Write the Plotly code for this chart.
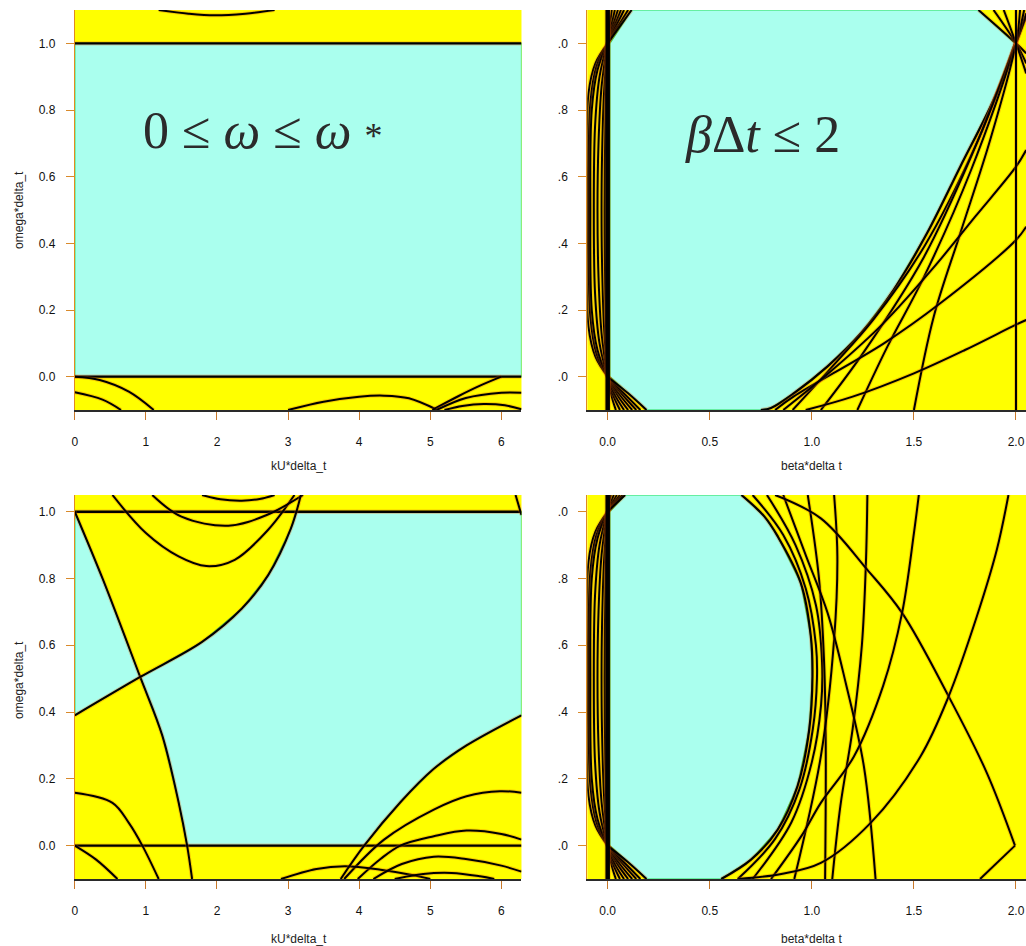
import plotly.graph_objects as go

YELLOW = "#FFFF00"
CYAN = "#AAFFEE"

# ---------------- data ----------------
# top-left panel (kU*delta_t vs omega*delta_t)
tl_region = [(0, 0.0), (6.283, 0.0), (6.283, 1.0), (0, 1.0)]
tl_curves = [
    [(0, 1.0), (6.283, 1.0)],
    [(0, 0.0), (6.283, 0.0)],
    [(1.18, 1.1), (1.6, 1.089), (1.97, 1.084), (2.4, 1.089), (2.81, 1.1)],
    [(0.0, 0.0), (0.35, -0.01), (0.76, -0.045), (1.11, -0.1)],
    [(0.0, -0.047), (0.39, -0.069), (0.65, -0.1)],
    [(3.0, -0.1), (3.5, -0.075), (4.0, -0.06), (4.35, -0.057), (4.7, -0.065), (5.1, -0.1)],
    [(5.03, -0.1), (5.4, -0.058), (5.7, -0.027), (6.0, 0.0)],
    [(5.09, -0.1), (5.5, -0.064), (6.0, -0.048), (6.283, -0.048)],
    [(5.2, -0.1), (5.45, -0.088), (5.75, -0.082), (6.05, -0.086), (6.283, -0.098)],
]

# shared pieces of the two beta panels
left_loops = [
    [(0, 1.0), (-0.06, 0.94), (-0.094, 0.85), (-0.1, 0.5), (-0.094, 0.15), (-0.06, 0.06), (0, 0.0)],
    [(0, 1.0), (-0.055, 0.93), (-0.085, 0.82), (-0.092, 0.5), (-0.085, 0.18), (-0.055, 0.07), (0, 0.0)],
    [(0, 1.0), (-0.05, 0.92), (-0.078, 0.8), (-0.085, 0.5), (-0.078, 0.2), (-0.05, 0.08), (0, 0.0)],
    [(0, 1.0), (-0.04, 0.9), (-0.062, 0.75), (-0.068, 0.5), (-0.062, 0.25), (-0.04, 0.1), (0, 0.0)],
    [(0, 1.0), (-0.03, 0.87), (-0.045, 0.7), (-0.05, 0.5), (-0.045, 0.3), (-0.03, 0.13), (0, 0.0)],
    [(0, 1.0), (-0.018, 0.85), (-0.028, 0.65), (-0.03, 0.5), (-0.028, 0.35), (-0.018, 0.15), (0, 0.0)],
    [(0, 1.0), (-0.01, 0.8), (-0.015, 0.5), (-0.01, 0.2), (0, 0.0)],
]
bottom_fan = [
    [(0, 0.0), (0.02, -0.06), (0.04, -0.1)],
    [(0, 0.0), (0.03, -0.06), (0.06, -0.1)],
    [(0, 0.0), (0.04, -0.06), (0.08, -0.1)],
    [(0, 0.0), (0.05, -0.057), (0.1, -0.1)],
    [(0, 0.0), (0.06, -0.055), (0.12, -0.1)],
    [(0, 0.0), (0.07, -0.052), (0.14, -0.1)],
    [(0, 0.0), (0.08, -0.05), (0.16, -0.1)],
    [(0, 0.0), (0.1, -0.05), (0.19, -0.1)],
]

# top-right panel (beta*delta t vs omega*delta_t)
tr_boundary = [(1.995, 1.0), (1.89, 0.83), (1.727, 0.63), (1.564, 0.43), (1.40, 0.26), (1.24, 0.13),
               (1.077, 0.031), (0.914, -0.049), (0.8, -0.094), (0.75, -0.1)]
tr_corner = [(0.19, -0.1), (0.011, 0.0), (0.011, 1.0), (0.117, 1.1), (1.816, 1.1)]
tr_top_fan = [
    [(0, 1.0), (0.02, 1.1)],
    [(0, 1.0), (0.035, 1.1)],
    [(0, 1.0), (0.05, 1.1)],
    [(0, 1.0), (0.065, 1.1)],
    [(0, 1.0), (0.08, 1.1)],
    [(0, 1.0), (0.1, 1.1)],
    [(0, 1.0), (0.117, 1.1)],
]
tr_curves = [
    [(0.906, -0.1), (1.1, 0.03), (1.3, 0.17), (1.55, 0.39), (1.8, 0.69), (2.0, 1.0), (2.05, 1.08)],
    [(1.044, -0.1), (1.25, 0.07), (1.55, 0.36), (1.78, 0.66), (2.0, 1.0), (2.05, 1.09)],
    [(1.223, -0.1), (1.37, 0.09), (1.55, 0.3), (1.78, 0.62), (2.0, 1.0), (2.04, 1.1)],
    [(1.5, -0.1), (1.597, 0.18), (1.727, 0.43), (1.873, 0.709), (2.0, 1.0), (2.02, 1.1)],
    [(1.816, 1.1), (2.0, 1.0), (2.05, 0.97)],
    [(1.89, 1.1), (2.0, 1.0), (2.05, 0.94)],
    [(1.94, 1.1), (2.0, 1.0), (2.05, 0.91)],
    [(0.97, -0.1), (1.2, -0.06), (1.5, 0.01), (1.75, 0.08), (2.0, 0.156), (2.05, 0.17)],
    [(0.82, -0.1), (0.91, -0.06), (1.353, 0.1), (1.629, 0.22), (2.0, 0.41), (2.05, 0.45)],
    [(0.86, -0.1), (1.1, 0.02), (1.35, 0.16), (1.6, 0.33), (1.8, 0.48), (2.0, 0.63), (2.05, 0.68)],
    [(2.0, -0.1), (2.0, 1.1)],
]

# bottom-left panel
bl_s1 = [(0, 1.0), (0.39, 0.8), (0.92, 0.505), (1.23, 0.33), (1.46, 0.13), (1.58, 0.0), (1.65, -0.1)]
bl_s2 = [(0, 0.39), (0.92, 0.505), (1.79, 0.61), (2.35, 0.71), (2.72, 0.81), (3.04, 0.95), (3.18, 1.05)]
bl_s3 = [(3.74, -0.1), (4.07, 0.0), (4.58, 0.13), (5.05, 0.23), (5.51, 0.3), (6.283, 0.39)]
bl_curves = [
    [(0, 1.0), (6.283, 1.0)],
    [(0, 0.0), (6.283, 0.0)],
    [(0.53, 1.05), (1.0, 0.936), (1.46, 0.866), (1.85, 0.837), (2.25, 0.856), (2.72, 0.946), (3.09, 1.05)],
    [(1.09, 1.05), (1.5, 0.985), (2.16, 0.958), (2.7, 0.99), (3.21, 1.05)],
    [(1.79, 1.05), (2.05, 1.037), (2.35, 1.033), (2.6, 1.038), (2.81, 1.05)],
    [(6.2, 1.05), (6.283, 0.99)],
    [(0, 0.158), (0.53, 0.128), (0.76, 0.068), (0.95, 0.0), (1.18, -0.1)],
    [(0, 0.0), (0.3, -0.042), (0.6, -0.1)],
    [(3.79, -0.1), (4.35, 0.018), (5.05, 0.108), (5.51, 0.148), (5.98, 0.163), (6.283, 0.158)],
    [(3.98, -0.1), (4.3, -0.04), (4.58, 0.0), (5.05, 0.028), (5.51, 0.045), (6.0, 0.035), (6.283, 0.018)],
    [(2.9, -0.1), (3.4, -0.07), (3.8, -0.062), (4.3, -0.072), (4.8, -0.09), (5.0, -0.1)],
    [(4.2, -0.1), (4.6, -0.055), (5.05, -0.033), (5.5, -0.04), (6.0, -0.06), (6.283, -0.078)],
    [(4.5, -0.1), (4.9, -0.085), (5.3, -0.082), (5.7, -0.092), (5.9, -0.1)],
    bl_s1, bl_s2, bl_s3,
]

# bottom-right panel
br_boundary = [(0.655, 1.05), (0.767, 0.986), (0.833, 0.926), (0.946, 0.786), (0.995, 0.627), (1.003, 0.507),
               (0.987, 0.347), (0.93, 0.178), (0.833, 0.048), (0.702, -0.042), (0.556, -0.1)]
br_corner = [(0.19, -0.1), (0.011, 0.0), (0.011, 1.0), (0.085, 1.05)]
br_top_fan = [
    [(0, 1.0), (0.015, 1.05)],
    [(0, 1.0), (0.03, 1.05)],
    [(0, 1.0), (0.045, 1.05)],
    [(0, 1.0), (0.06, 1.05)],
    [(0, 1.0), (0.073, 1.05)],
    [(0, 1.0), (0.085, 1.05)],
]
br_curves = [
    [(0.71, 1.05), (0.86, 0.93), (0.97, 0.77), (1.02, 0.6), (1.025, 0.5), (1.005, 0.35), (0.94, 0.17), (0.82, 0.02), (0.637, -0.1)],
    [(0.78, 1.05), (0.92, 0.9), (1.02, 0.72), (1.05, 0.55), (1.045, 0.42), (1.0, 0.25), (0.9, 0.07), (0.71, -0.1)],
    [(1.065, -0.1), (1.068, 0.3), (1.06, 0.55), (1.035, 0.8), (0.98, 1.05)],
    [(1.109, 1.05), (1.125, 0.866), (1.109, 0.617), (1.044, 0.267), (0.914, -0.1)],
    [(1.272, 1.05), (1.265, 0.85), (1.245, 0.6), (1.2, 0.35), (1.14, 0.12), (1.1, -0.1)],
    [(1.312, -0.1), (1.255, 0.237), (1.166, 0.487), (1.077, 0.697), (0.97, 0.87), (0.86, 1.05)],
    [(0.82, 1.05), (1.044, 0.98), (1.272, 0.826), (1.442, 0.697), (1.67, 0.447), (1.857, 0.218), (1.995, 0.0)],
    [(1.995, 0.0), (1.824, -0.1)],
    [(0.8, -0.1), (0.95, 0.03), (1.044, 0.128), (1.206, 0.267), (1.35, 0.48), (1.442, 0.697), (1.5, 0.936), (1.524, 1.05)],
    [(0.64, -0.1), (0.85, -0.085), (1.044, -0.052), (1.288, 0.068), (1.532, 0.267), (1.67, 0.447), (1.808, 0.686), (1.906, 0.886), (1.963, 1.05)],
]

x_ticks_k = [0, 1, 2, 3, 4, 5, 6]
x_ticks_beta = [0.0, 0.5, 1.0, 1.5, 2.0]
y_ticks = [0.0, 0.2, 0.4, 0.6, 0.8, 1.0]
y_labels_left = ["0.0", "0.2", "0.4", "0.6", "0.8", "1.0"]
y_labels_right = [".0", ".2", ".4", ".6", ".8", ".0"]

# ---------------- figure ----------------
fig = go.Figure()


def add_region(pts, xa, ya):
    fig.add_trace(go.Scatter(
        x=[p[0] for p in pts] + [pts[0][0]], y=[p[1] for p in pts] + [pts[0][1]],
        xaxis=xa, yaxis=ya, mode="lines", fill="toself", fillcolor=CYAN,
        line=dict(color="#22dd55", width=1.2), hoverinfo="skip", showlegend=False))


def add_curve(pts, xa, ya, width=2.0):
    xs = [p[0] for p in pts]
    ys = [p[1] for p in pts]
    shape = "spline" if len(pts) > 2 else "linear"
    fig.add_trace(go.Scatter(x=xs, y=ys, xaxis=xa, yaxis=ya, mode="lines",
                             line=dict(color="rgba(225,90,0,0.3)", width=width + 2, shape=shape),
                             hoverinfo="skip", showlegend=False))
    fig.add_trace(go.Scatter(x=xs, y=ys, xaxis=xa, yaxis=ya, mode="lines",
                             line=dict(color="black", width=width, shape=shape),
                             hoverinfo="skip", showlegend=False))


# top-left
add_region(tl_region, "x", "y")
for c in tl_curves:
    add_curve(c, "x", "y", 2.4 if len(c) == 2 else 2.0)

# top-right
add_region(tr_corner + tr_boundary, "x2", "y2")
for c in left_loops + bottom_fan + tr_top_fan:
    add_curve(c, "x2", "y2", 2.0)
add_curve([(0.0, -0.1), (0.0, 1.1)], "x2", "y2", 4.5)
add_curve(tr_boundary, "x2", "y2", 2.2)
for c in tr_curves:
    add_curve(c, "x2", "y2", 2.0)

# bottom-left
region1 = [(0, 0.39), (0, 1.0), (0.39, 0.8), (0.92, 0.505)]
region2 = [(0.92, 0.505), (1.23, 0.33), (1.46, 0.13), (1.58, 0.0), (4.07, 0.0), (4.58, 0.13), (5.05, 0.23),
           (5.51, 0.3), (6.283, 0.39), (6.283, 1.0), (3.11, 1.0), (3.04, 0.95), (2.72, 0.81), (2.35, 0.71),
           (1.79, 0.61)]
add_region(region1, "x3", "y3")
add_region(region2, "x3", "y3")
for c in bl_curves:
    add_curve(c, "x3", "y3", 2.4 if len(c) == 2 and c[0][1] == c[1][1] else 2.0)

# bottom-right
add_region(br_corner + br_boundary, "x4", "y4")
for c in left_loops + bottom_fan + br_top_fan:
    add_curve(c, "x4", "y4", 2.0)
add_curve([(0.0, -0.1), (0.0, 1.05)], "x4", "y4", 4.5)
add_curve(br_boundary, "x4", "y4", 2.2)
for c in br_curves:
    add_curve(c, "x4", "y4", 2.0)

W, H = 1026, 946
left_dom = [72 / W, 520 / W]
right_dom = [586 / W, 1.0]
top_dom = [1 - 410 / H, 1 - 10 / H]
bot_dom = [1 - 879 / H, 1 - 495 / H]

tickfont = dict(family="Liberation Sans, Arial, sans-serif", size=12, color="#111111")


def xaxis(dom, rng, vals, labels, anchor):
    return dict(domain=dom, range=rng, tickvals=vals, ticktext=labels, anchor=anchor,
                showgrid=False, zeroline=False, ticks="outside", ticklen=8, tickwidth=1,
                tickcolor="#c8782a", tickfont=tickfont, ticklabelstandoff=12,
                showline=True, linecolor="#2a2a2a", linewidth=1.5, fixedrange=True)


def yaxis(dom, rng, labels, anchor):
    return dict(domain=dom, range=rng, tickvals=y_ticks, ticktext=labels, anchor=anchor,
                showgrid=False, zeroline=False, ticks="outside", ticklen=8, tickwidth=1,
                tickcolor="#d98a2b", tickfont=tickfont, ticklabelstandoff=8,
                showline=True, linecolor="#e08a20", linewidth=1, fixedrange=True)


fig.update_layout(
    width=W, height=H, margin=dict(l=0, r=0, t=0, b=0),
    paper_bgcolor="white", plot_bgcolor=YELLOW, showlegend=False,
    xaxis=xaxis(left_dom, [0, 6.283], x_ticks_k, [str(v) for v in x_ticks_k], "y"),
    yaxis=yaxis(top_dom, [-0.1, 1.1], y_labels_left, "x"),
    xaxis2=xaxis(right_dom, [-0.1, 2.049], x_ticks_beta, ["%.1f" % v for v in x_ticks_beta], "y2"),
    yaxis2=yaxis(top_dom, [-0.1, 1.1], y_labels_right, "x2"),
    xaxis3=xaxis(left_dom, [0, 6.283], x_ticks_k, [str(v) for v in x_ticks_k], "y3"),
    yaxis3=yaxis(bot_dom, [-0.1, 1.05], y_labels_left, "x3"),
    xaxis4=xaxis(right_dom, [-0.1, 2.049], x_ticks_beta, ["%.1f" % v for v in x_ticks_beta], "y4"),
    yaxis4=yaxis(bot_dom, [-0.1, 1.05], y_labels_right, "x4"),
)

title_font = dict(family="Liberation Sans, Arial, sans-serif", size=12, color="#222222")
labels = [
    ("kU*delta_t", 297, 466, 0),
    ("kU*delta_t", 297, 939, 0),
    ("beta*delta t", 811, 466, 0),
    ("beta*delta t", 811, 939, 0),
    ("omega*delta_t", 16, 210, -90),
    ("omega*delta_t", 16, 680, -90),
]
for text, px, py, ang in labels:
    fig.add_annotation(text=text, x=px / W, y=1 - py / H, xref="paper", yref="paper",
                       showarrow=False, textangle=ang, font=title_font,
                       xanchor="center", yanchor="middle")

math_font = dict(family="Liberation Serif, DejaVu Serif, serif", size=52, color="#2b2b2b")
fig.add_annotation(text="0 ≤ <i>ω</i> ≤ <i>ω</i> <span style='font-size:36px'>*</span>",
                   x=261 / W, y=1 - 130 / H, xref="paper", yref="paper",
                   showarrow=False, font=math_font, xanchor="center", yanchor="middle")
fig.add_annotation(text="<i>β</i>Δ<i>t</i> ≤ 2", x=762 / W, y=1 - 134 / H, xref="paper", yref="paper",
                   showarrow=False, font=math_font, xanchor="center", yanchor="middle")

# drop the default page margin so the figure sits at the window's top-left corner
fig.write_html("out.html", config={"displayModeBar": False},
               post_script="document.body.style.margin='0px';document.body.style.overflow='hidden';")
